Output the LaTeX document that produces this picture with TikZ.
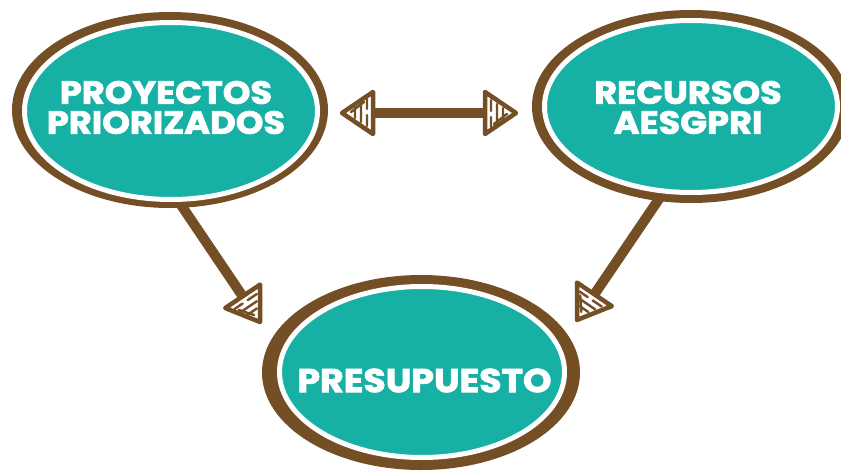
\documentclass[tikz,border=0pt]{standalone}
\usepackage{fontspec}
\setmainfont{Poppins}
\newfontfamily\hfont{Poppins}[FakeStretch=1.1, BoldFeatures={FakeBold=2.4}]
\usetikzlibrary{shapes.geometric,backgrounds,calc}
\definecolor{hbrown}{HTML}{744E25}
\definecolor{hteal}{HTML}{17B0A4}
\tikzset{
  bubble/.style={ellipse, fill=hteal, draw=white, line width=5pt, inner sep=0pt},
  ring/.style={fill=hbrown},
  lbl/.style={text=white, font=\hfont\bfseries\fontsize{32}{30}\selectfont, align=center, inner sep=0pt},
  shaft/.style={draw=hbrown, line width=10pt},
  hhead/.pic={
    \draw[hbrown, line width=4.5pt, line join=round, fill=white] (0,0) -- (-31,21) -- (-31,-21) -- cycle;
    \draw[hbrown, line width=2.4pt, line cap=round]
      (-25,14) -- (-25,4) (-25,-2) -- (-25,-13)
      (-19,10) -- (-19,-9)
      (-13,6) -- (-13,-5)
      (-22,11) -- (-9,1);
  }
}
\begin{document}
\begin{tikzpicture}[x=1pt,y=-1pt]
\useasboundingbox (0,0) rectangle (841,474);
\node[bubble, minimum width=293pt, minimum height=177pt] (p) at (171,111) {};
\node[bubble, minimum width=293pt, minimum height=172pt] (r) at (691,106.5) {};
\node[bubble, minimum width=285pt, minimum height=171pt] (e) at (422,372) {};
\node[lbl] (pt) at (166,107.5) {PROYECTOS\\PRIORIZADOS};
\node[lbl] (rt) at (688,107.5) {RECURSOS\\AESGPRI};
\node[lbl, font=\hfont\bfseries\fontsize{33}{33}\selectfont] (et) at (424.5,380.5) {PRESUPUESTO};
\coordinate (t1) at (260,322);
\coordinate (t2) at (577,320);
\coordinate (la) at (342,113);
\coordinate (ra) at (516,113);
\begin{pgfonlayer}{background}
\fill[white] (0,0) rectangle (841,474);
\fill[ring] ($(p.center)+(-1,-1)$) ellipse [x radius=158, y radius=98];
\fill[ring] (r.center) ellipse [x radius=159, y radius=96.5];
\fill[ring] ($(e.center)+(-1,0.5)$) ellipse [x radius=159, y radius=97.5];
\draw[shaft, shorten >=28pt] (p.-85) -- (t1);
\draw[shaft, shorten >=28pt] (r.-108) -- (t2);
\draw[shaft, shorten >=28pt, shorten <=28pt] (la) -- (ra);
\end{pgfonlayer}
\path let \p1=($(t1)-(p.-85)$), \n1={atan2(\y1,\x1)} in (t1) pic[rotate=\n1] {hhead};
\path let \p1=($(t2)-(r.-108)$), \n1={atan2(\y1,\x1)} in (t2) pic[rotate=\n1] {hhead};
\path (la) pic[rotate=180] {hhead};
\path (ra) pic {hhead};
\end{tikzpicture}
\end{document}
